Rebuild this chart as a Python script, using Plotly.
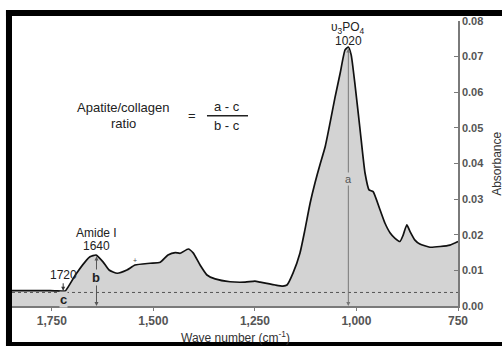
import plotly.graph_objects as go

# Spectrum (wave number cm^-1, absorbance)
wavenumber = [1848, 1803, 1754, 1725, 1717, 1692, 1668, 1656, 1641, 1624, 1609, 1589,
              1565, 1545, 1508, 1483, 1464, 1446, 1434, 1414, 1402, 1385, 1368, 1348,
              1311, 1274, 1250, 1237, 1200, 1181, 1171, 1156, 1139, 1127, 1114, 1102,
              1090, 1077, 1065, 1053, 1040, 1028, 1020, 1013, 1003, 991, 979, 969,
              959, 942, 930, 917, 905, 893, 885, 876, 868, 856, 844, 819, 794, 770, 750]
absorbance = [0.0043, 0.0043, 0.0043, 0.0042, 0.0042, 0.0087, 0.0124, 0.0138, 0.0143,
              0.0124, 0.0101, 0.0092, 0.0101, 0.0115, 0.0120, 0.0123, 0.0143, 0.0150,
              0.0148, 0.0160, 0.0149, 0.0115, 0.0087, 0.0076, 0.0068, 0.0067, 0.0070,
              0.0067, 0.0059, 0.0056, 0.0059, 0.0093, 0.0149, 0.0213, 0.0289, 0.0346,
              0.0396, 0.0447, 0.0514, 0.0584, 0.0654, 0.0719, 0.0727, 0.0705, 0.0616,
              0.0494, 0.0374, 0.0326, 0.0321, 0.0270, 0.0233, 0.0205, 0.0190, 0.0181,
              0.0199, 0.0228, 0.0209, 0.0185, 0.0174, 0.0165, 0.0167, 0.0171, 0.0181]

x_tick_vals = [1750, 1500, 1250, 1000, 750]
x_tick_text = ["1,750", "1,500", "1,250", "1,000", "750"]
y_tick_vals = [0.00, 0.01, 0.02, 0.03, 0.04, 0.05, 0.06, 0.07, 0.08]

baseline_c = 0.0038     # dotted baseline level
peak_a = (1020, 0.0727)
peak_b = (1640, 0.0143)
point_c = (1722, 0.0043)

FONT = "Liberation Sans, Arial, sans-serif"
GRAY = "#555555"
AX = "#7a7a7a"
FILL = "#d3d3d3"

fig = go.Figure()
fig.add_trace(go.Scatter(
    x=wavenumber, y=absorbance, mode="lines", fill="tozeroy",
    fillcolor=FILL, line=dict(color="#111111", width=1.7, shape="spline", smoothing=0.5),
    hoverinfo="skip"))

# dotted baseline
fig.add_trace(go.Scatter(
    x=[1848, 750], y=[baseline_c, baseline_c], mode="lines",
    line=dict(color="#555555", width=1, dash="dot"), hoverinfo="skip"))

ann = []
def arrow(x, y0, y1, color, side="end+start", width=1):
    ann.append(dict(x=x, y=y1, ax=x, ay=y0, xref="x", yref="y", axref="x", ayref="y",
                    text="", showarrow=True, arrowhead=2, arrowsize=0.8, arrowwidth=width,
                    arrowcolor=color, arrowside=side, standoff=0, startstandoff=0))

def label(x, y, text, size=12, color="#222222", bold=False, xref="x", yref="y", angle=0,
          bg=None):
    d = dict(x=x, y=y, xref=xref, yref=yref, text=text, showarrow=False,
             textangle=angle, xanchor="center", yanchor="middle",
             font=dict(family=FONT, size=size, color=color,
                       weight="bold" if bold else "normal"))
    if bg:
        d["bgcolor"] = bg
        d["borderpad"] = 0
    ann.append(d)

arrow(peak_a[0], peak_a[1], 0, "#777777")
arrow(peak_b[0], peak_b[1], 0, "#555555")
arrow(point_c[0], baseline_c, 0, "#555555")
arrow(point_c[0], 0.0068, point_c[1], "#333333", side="end")

label(1020, 0.0781, "υ<sub>3</sub>PO<sub>4</sub>")
label(1020, 0.0744, "1020")
label(1640, 0.0204, "Amide I")
label(1640, 0.0169, "1640")
label(1722, 0.0088, "1720", size=12)
label(1020, 0.0357, "a", size=11, color="#555555", bg=FILL)
label(1640, 0.0081, "b", size=13, color="#222222", bold=True, bg=FILL)
label(1722, 0.0019, "c", size=13, color="#222222", bold=True, bg=FILL)
label(1545, 0.0127, "+", size=7, color="#444444")

label(1574, 0.0557, "Apatite/collagen", size=13)
label(1574, 0.0511, "ratio", size=13)
label(1405, 0.0535, "=", size=13)
label(1318, 0.0560, "a - c", size=13)
label(1318, 0.0508, "b - c", size=13)

label(0.502, -0.109, "Wave number (cm<sup>-1</sup>)", size=12, color="#333333",
      xref="paper", yref="paper")
label(1.086, 0.5, "Absorbance", size=12, color="#333333", xref="paper", yref="paper",
      angle=-90)

shapes = [
    # fraction bar
    dict(type="line", xref="x", yref="y", x0=1368, x1=1267, y0=0.0534, y1=0.0534,
         line=dict(color="#222222", width=1.3)),
    # black frame (top, left, bottom)
    dict(type="rect", xref="paper", yref="paper", x0=-0.0135, x1=1.2, y0=1.0175, y1=1.0386,
         fillcolor="black", line=dict(width=0)),
    dict(type="rect", xref="paper", yref="paper", x0=-0.0135, x1=0.0, y0=-0.20, y1=1.0386,
         fillcolor="black", line=dict(width=0)),
    dict(type="rect", xref="paper", yref="paper", x0=-0.0135, x1=1.2, y0=-0.20, y1=-0.1263,
         fillcolor="black", line=dict(width=0)),
]

fig.update_layout(
    width=502, height=346,
    margin=dict(l=12, r=44, t=21, b=40),
    paper_bgcolor="white", plot_bgcolor="white",
    showlegend=False,
    annotations=ann, shapes=shapes,
    xaxis=dict(range=[1848, 750], tickvals=x_tick_vals, ticktext=x_tick_text,
               showgrid=False, zeroline=False, showline=True, linecolor=AX, linewidth=1.5,
               ticks="outside", ticklen=3, tickcolor=AX,
               tickfont=dict(family=FONT, size=12, color=GRAY, weight="bold")),
    yaxis=dict(range=[0, 0.08], side="right", tickvals=y_tick_vals, tickformat=".2f",
               showgrid=False, zeroline=False, showline=True, linecolor=AX, linewidth=1.5,
               ticks="inside", ticklen=4, tickcolor=AX,
               tickfont=dict(family=FONT, size=11, color=GRAY, weight="bold")),
)

fig.write_html("out.html")
